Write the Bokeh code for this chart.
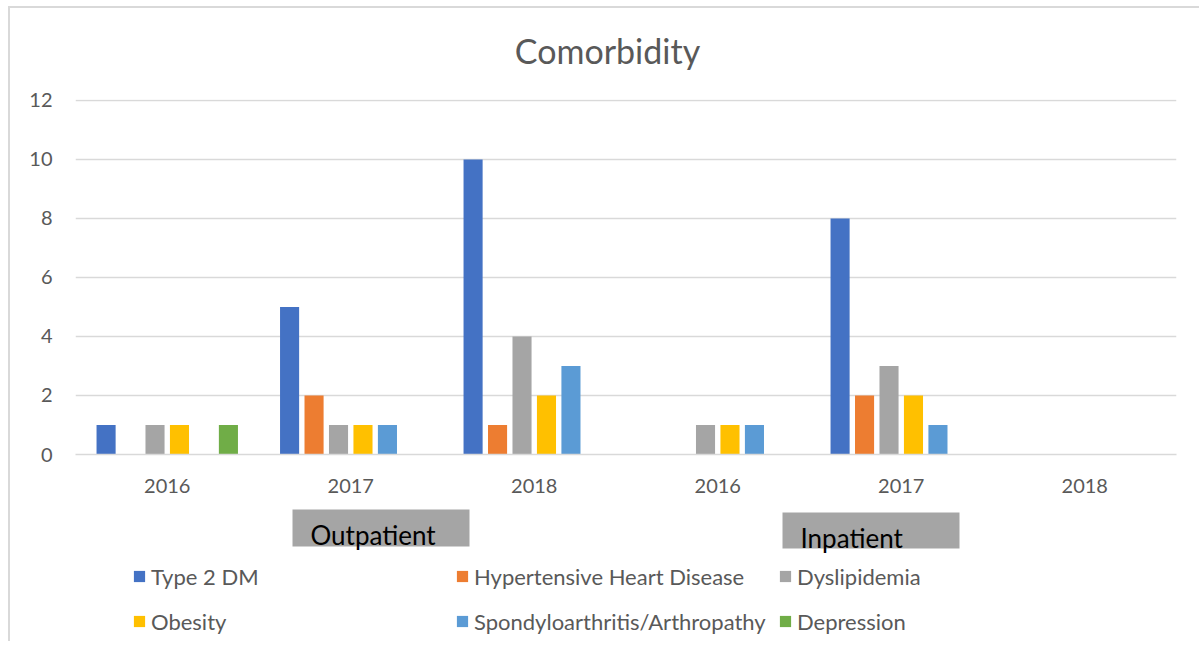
from bokeh.plotting import figure
from bokeh.layouts import column
from bokeh.models import (ColumnDataSource, FixedTicker, Legend, LegendItem,
                          Range1d)
from bokeh.core.properties import value
from bokeh.transform import dodge
from bokeh.embed import file_html
from bokeh.resources import INLINE

# ---- data ----
title_text = "Comorbidity"
categories = ["2016", "2017", "2018", "2016", "2017", "2018"]
settings = ["Outpatient", "Outpatient", "Outpatient", "Inpatient", "Inpatient", "Inpatient"]
series_names = ["Type 2 DM", "Hypertensive Heart Disease", "Dyslipidemia",
                "Obesity", "Spondyloarthritis/Arthropathy", "Depression"]
type2_dm = [1, 5, 10, 0, 8, 0]
hypertensive_heart = [0, 2, 1, 0, 2, 0]
dyslipidemia = [1, 1, 4, 1, 3, 0]
obesity = [1, 1, 2, 1, 2, 0]
spondyloarthritis = [0, 1, 3, 1, 1, 0]
depression = [1, 0, 0, 0, 0, 0]
y_ticks = [0, 2, 4, 6, 8, 10, 12]
group_labels = ["Outpatient", "Inpatient"]

colors = ["#4472C4", "#ED7D31", "#A5A5A5", "#FFC000", "#5B9BD5", "#70AD47"]
FONT = "Lato"
TXT = "#595959"

series_values = [type2_dm, hypertensive_heart, dyslipidemia, obesity,
                 spondyloarthritis, depression]
keys = ["s%d" % i for i in range(len(series_values))]
pos = [i + 0.5 for i in range(len(categories))]
data = dict(pos=pos, cat=categories, setting=settings)
for k, v in zip(keys, series_values):
    data[k] = v
src = ColumnDataSource(data)

# overall geometry (picture pixels): css margin + 2px border
OFF_X, OFF_Y = 10, 8
TOTAL_W = 1199
W = TOTAL_W - OFF_X
H0, H1, H2 = 80, 412, 141
P0_TOP = OFF_Y
P1_TOP = P0_TOP + H0
P2_TOP = P1_TOP + H1
P2_BOTTOM = P2_TOP + H2
FRAME_L, FRAME_R = 75, 1176
MB_L = FRAME_L - OFF_X
MB_R = TOTAL_W - FRAME_R


def blank_panel(height, y_top, y_bottom):
    f = figure(width=W, height=height,
               x_range=Range1d(FRAME_L, FRAME_R),
               y_range=Range1d(y_bottom, y_top),
               output_backend="svg", toolbar_location=None,
               x_axis_location=None, y_axis_location=None,
               min_border_left=MB_L, min_border_right=MB_R,
               min_border_top=0, min_border_bottom=0)
    f.outline_line_color = None
    f.grid.visible = False
    f.background_fill_color = "white"
    f.border_fill_color = "white"
    return f

# ---------------- title panel ----------------
p0 = blank_panel(H0, P0_TOP, P1_TOP)
title_src = ColumnDataSource(dict(x=[607], y=[50], text=[title_text]))
p0.text(x="x", y="y", text="text", source=title_src,
        text_font=value(FONT), text_font_size="34px", text_color=TXT,
        text_align="center", text_baseline="alphabetic")

# ---------------- main chart ----------------
p = figure(width=W, height=H1, x_range=(0, len(categories)),
           y_range=Range1d(0, 12.03),
           output_backend="svg", toolbar_location=None,
           min_border_left=MB_L, min_border_right=MB_R,
           min_border_top=11, min_border_bottom=46)
p.outline_line_color = None
p.background_fill_color = "white"
p.border_fill_color = "white"

n = len(series_values)
slot = 1.0 / (n + 1.5)
renderers = []
for i, k in enumerate(keys):
    r = p.vbar(x=dodge("pos", (i - (n - 1) / 2) * slot), top=k, bottom=0,
               width=slot * 0.78, source=src, fill_color=colors[i],
               line_color=None)
    renderers.append(r)

p.xgrid.visible = False
p.ygrid.grid_line_color = "#D9D9D9"
p.ygrid.grid_line_width = 1.5
p.yaxis.ticker = FixedTicker(ticks=y_ticks)
p.yaxis.axis_line_color = None
p.yaxis.major_tick_line_color = None
p.yaxis.minor_tick_line_color = None
p.yaxis.major_label_standoff = 17
p.yaxis.major_label_text_font = FONT
p.yaxis.major_label_text_font_size = "20px"
p.yaxis.major_label_text_color = TXT

p.xaxis.ticker = FixedTicker(ticks=pos)
p.xaxis.major_label_overrides = {x: c for x, c in zip(pos, categories)}
p.xaxis.axis_line_color = "#D9D9D9"
p.xaxis.axis_line_width = 1.5
p.xaxis.major_tick_line_color = None
p.xaxis.minor_tick_line_color = None
p.xaxis.major_label_standoff = 18
p.xaxis.major_label_text_font = FONT
p.xaxis.major_label_text_font_size = "20px"
p.xaxis.major_label_text_color = TXT

# ---------------- lower panel: group boxes + legend ----------------
p2 = blank_panel(H2, P2_TOP, P2_BOTTOM)

box_src = ColumnDataSource(dict(
    label=group_labels,
    left=[292, 782], right=[469, 959], top=[509, 512], bottom=[546, 548],
    tx=[310, 800], ty=[534, 537]))
p2.quad(left="left", right="right", top="top", bottom="bottom",
        source=box_src, fill_color="#A5A5A5", line_color=None)
p2.text(x="tx", y="ty", text="label", source=box_src,
        text_font=value(FONT), text_font_size="26px", text_color="black",
        text_align="left", text_baseline="alphabetic")

# legend swatches: one zero-size placeholder row each (nothing visible drawn)
swatch_src = ColumnDataSource(dict(x=[FRAME_L], top=[P2_BOTTOM], bottom=[P2_BOTTOM]))
swatches = []
for i in range(n):
    swatches.append(p2.vbar(x="x", top="top", bottom="bottom", width=0,
                            source=swatch_src, fill_color=colors[i],
                            line_color=None))
items = [LegendItem(label=nm, renderers=[r]) for nm, r in zip(series_names, swatches)]
legend = Legend(items=items, ncols=3, orientation="horizontal",
                location=(57, 2), glyph_width=14, glyph_height=14,
                label_standoff=5, label_width=295, label_height=36, spacing=9,
                padding=0, margin=0, border_line_color=None,
                background_fill_alpha=0,
                label_text_font=FONT, label_text_font_size="22px",
                label_text_color=TXT)
p2.add_layout(legend)

layout = column(p0, p, p2, spacing=0,
                styles={"margin-left": "8px", "margin-top": "6px",
                        "box-sizing": "content-box", "overflow": "hidden",
                        "border-left": "2px solid #D9D9D9",
                        "border-top": "2px solid #D9D9D9"})

open("out.html", "w").write(file_html(layout, INLINE))
